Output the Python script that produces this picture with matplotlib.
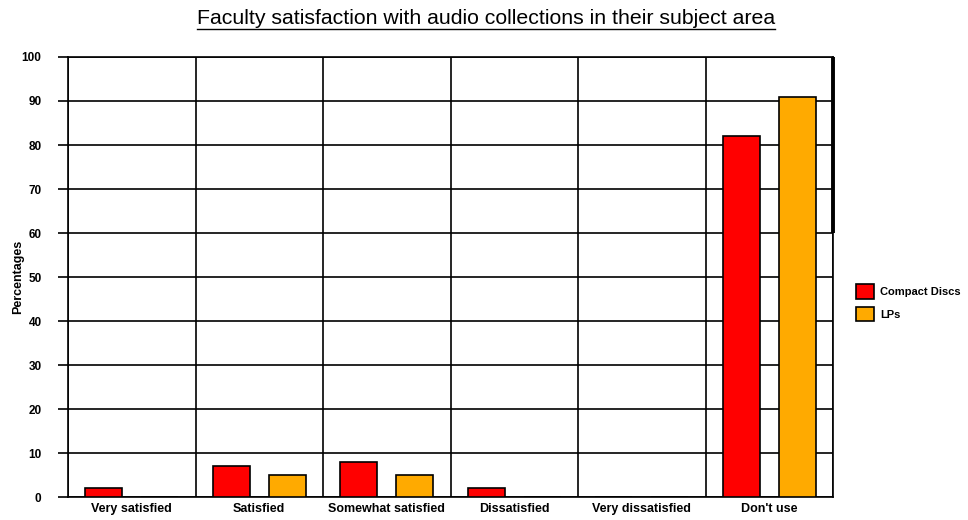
import matplotlib
matplotlib.use("Agg")
import matplotlib.pyplot as plt
import numpy as np
from matplotlib.lines import Line2D
from matplotlib.patches import Patch

categories = ["Very satisfied", "Satisfied", "Somewhat satisfied", "Dissatisfied",
              "Very dissatisfied", "Don't use"]
compact_discs = [2, 7, 8, 2, 0, 82]
lps = [0, 5, 5, 0, 0, 91]
series_names = ["Compact Discs", "LPs"]
y_ticks = list(range(0, 101, 10))

plt.rcParams['font.family'] = ['Liberation Sans', 'DejaVu Sans']

fig = plt.figure(figsize=(9.68, 5.2), dpi=100)
ax = fig.add_axes([68/968, 1 - 497/520, (833-68)/968, (497-57)/520])

x = np.arange(len(categories))
w = 0.29
off = 0.218
ax.bar(x - off, compact_discs, width=w, color="#ff0000", edgecolor="black", linewidth=1.2, zorder=3)
ax.bar(x + off, lps, width=w, color="#ffaa00", edgecolor="black", linewidth=1.2, zorder=3)

ax.set_xlim(-0.5, len(categories) - 0.5)
ax.set_ylim(0, 100)
ax.set_yticks(y_ticks)
ax.set_yticklabels([str(v) for v in y_ticks], fontsize=8.5, fontweight="bold")
ax.set_xticks(x)
ax.set_xticklabels(categories, fontsize=9, fontweight="bold")
ax.tick_params(axis="x", length=0, pad=4)
ax.tick_params(axis="y", length=7, width=1.2, color="black", pad=12)

for v in y_ticks:
    ax.axhline(v, color="black", linewidth=1.2, zorder=1)
for b in np.arange(-0.5, len(categories), 1.0):
    ax.axvline(b, color="black", linewidth=1.2, zorder=1)
for s in ax.spines.values():
    s.set_color("black")
    s.set_linewidth(1.2)

# heavy right edge segment (shadow)
ax.plot([len(categories) - 0.5, len(categories) - 0.5], [60, 100], color="black",
        linewidth=2.8, clip_on=False, zorder=4, solid_capstyle="butt")

fig.text(18/968, 1 - 277/520, "Percentages", rotation=90, ha="center", va="center",
         fontsize=9, fontweight="bold")

handles = [Patch(facecolor="#ff0000", edgecolor="black", linewidth=1.2),
           Patch(facecolor="#ffaa00", edgecolor="black", linewidth=1.2)]
fig.legend(handles, series_names, loc="upper left", bbox_to_anchor=(852/968, 1 - 280/520),
           frameon=False, handlelength=1.6, handleheight=1.6, borderaxespad=0.0,
           handletextpad=0.5, labelspacing=0.75, prop={"weight": "bold", "size": 8})

title = fig.text(0.502, 1 - 18/520, "Faculty satisfaction with audio collections in their subject area",
                 ha="center", va="center", fontsize=15.3)
fig.canvas.draw()
bb = title.get_window_extent(fig.canvas.get_renderer())
fy = (bb.y0 - 1) / fig.bbox.height
fig.add_artist(Line2D([bb.x0 / fig.bbox.width, bb.x1 / fig.bbox.width], [fy, fy],
                      color="black", linewidth=1.0, transform=fig.transFigure))

fig.savefig("out.png", dpi=100)
